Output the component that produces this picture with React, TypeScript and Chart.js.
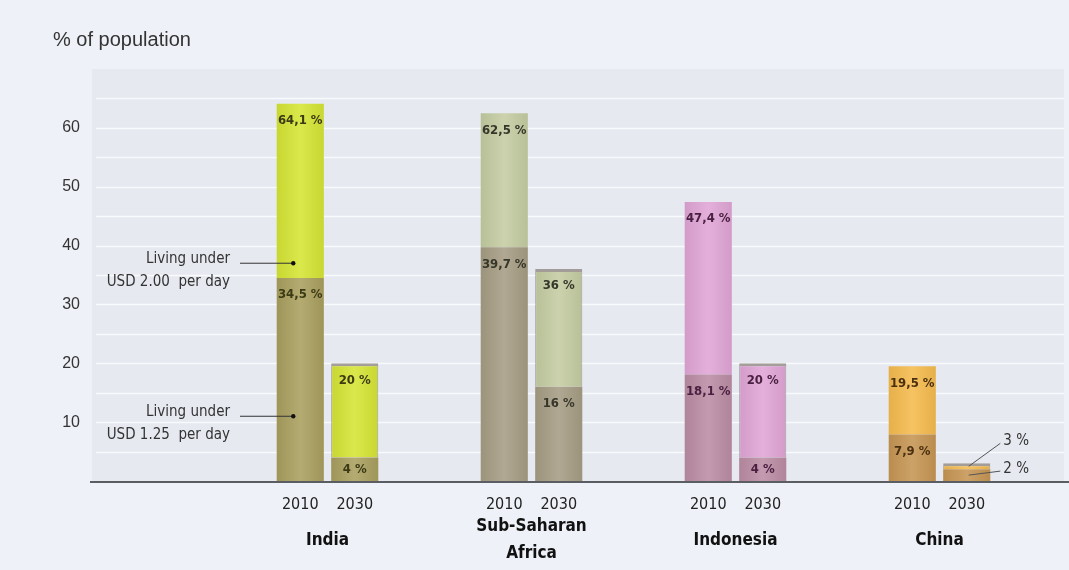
import React, { useEffect, useRef } from 'react';
import { Chart, registerables } from 'chart.js';

Chart.register(...registerables);

// ---------- data ----------
const REGIONS: string[][] = [['India'], ['Sub-Saharan', 'Africa'], ['Indonesia'], ['China']];
const YEARS = ['2010', '2030'];
const UNDER_125_2010 = [34.5, 39.7, 18.1, 7.9];
const UNDER_200_2010 = [64.1, 62.5, 47.4, 19.5];
const UNDER_125_2030 = [4, 16, 4, 2];
const UNDER_200_2030 = [20, 36, 20, 3];
const Y_MAX = 70;
const Y_STEP = 5;
const TITLE = '% of population';
const ANNOTATION_TEXT = [
  ['Living under', 'USD 2.00  per day'],
  ['Living under', 'USD 1.25  per day'],
];
const ANNOTATION_VALUES = [37, 11];

// ---------- styles ----------
const TOP_COLORS = ['#d5e534', '#c4cca2', '#e0a5d6', '#f5bb4e'];
const BOTTOM_COLORS = ['#a99f5f', '#a59c83', '#bb8ca4', '#c69553'];
const LABEL_COLORS = ['#3b3a14', '#36362a', '#4a2042', '#4a3010'];
const PANEL_BG = '#e6e9f0';
const PAGE_BG = '#eef1f7';
const NARROW = '"Liberation Sans Narrow", "DejaVu Sans Condensed", "Arial Narrow", Arial, sans-serif';
const SANS = '"Liberation Sans", Arial, Helvetica, sans-serif';

const fmt = (v: number) => String(v).replace('.', ',') + ' %';

function shade(hex: string, f: number) {
  const n = parseInt(hex.slice(1), 16);
  const c = [(n >> 16) & 255, (n >> 8) & 255, n & 255].map((v) =>
    Math.max(0, Math.min(255, Math.round(f >= 0 ? v + (255 - v) * f : v * (1 + f))))
  );
  return `rgb(${c[0]},${c[1]},${c[2]})`;
}

const barFill = (colors: string[]) => (c: any) => {
  const base = colors[c.dataIndex];
  const el = c.element;
  if (!el || typeof el.x !== 'number' || !el.width || !isFinite(el.x)) return base;
  const g = c.chart.ctx.createLinearGradient(el.x - el.width / 2, 0, el.x + el.width / 2, 0);
  g.addColorStop(0, shade(base, -0.06));
  g.addColorStop(0.5, shade(base, 0.12));
  g.addColorStop(1, shade(base, -0.06));
  return g;
};

const decor = {
  id: 'decor',
  beforeDraw(chart: any) {
    const { ctx } = chart;
    const y = chart.scales.y;
    const top = y.getPixelForValue(y.max);
    const bottom = y.getPixelForValue(0);
    const left = 92;
    const right = chart.width - 5;
    ctx.save();
    ctx.fillStyle = PANEL_BG;
    ctx.fillRect(left, top, right - left, bottom - top);
    ctx.strokeStyle = 'rgba(255,255,255,0.75)';
    ctx.lineWidth = 1.3;
    y.ticks.forEach((t: any) => {
      if (t.value <= 0 || t.value >= y.max) return;
      const py = Math.round(y.getPixelForValue(t.value)) + 0.5;
      ctx.beginPath();
      ctx.moveTo(left + 4, py);
      ctx.lineTo(right, py);
      ctx.stroke();
    });
    ctx.fillStyle = '#333';
    ctx.font = `20px ${SANS}`;
    ctx.textAlign = 'left';
    ctx.textBaseline = 'middle';
    ctx.fillText(TITLE, 53, 40);
    ctx.restore();
  },
  afterDatasetsDraw(chart: any) {
    const { ctx } = chart;
    const y = chart.scales.y;
    const base0 = y.getPixelForValue(0);
    const left = 90;
    const right = chart.width;
    ctx.save();

    // value labels
    chart.data.datasets.forEach((ds: any, di: number) => {
      const meta = chart.getDatasetMeta(di);
      meta.data.forEach((el: any, i: number) => {
        const p = el.getProps(['x', 'y', 'base', 'width'], true);
        const top = Math.min(p.y, p.base);
        const bot = Math.max(p.y, p.base);
        const h = bot - top;
        const text = fmt(ds.valueLabels[i]);
        if (h >= 18) {
          ctx.font = `bold 13px ${NARROW}`;
          ctx.fillStyle = LABEL_COLORS[i];
          ctx.textAlign = 'center';
          ctx.textBaseline = 'middle';
          ctx.fillText(text, p.x, Math.min(top + 17, (top + bot) / 2));
        } else {
          const barRight = p.x + p.width / 2;
          const mid = (top + bot) / 2;
          const ty = ds.isTop ? top - 22 : mid - 6;
          ctx.strokeStyle = '#555';
          ctx.lineWidth = 1;
          ctx.beginPath();
          ctx.moveTo(p.x + 2, mid);
          ctx.lineTo(barRight + 10, ty + 2);
          ctx.stroke();
          ctx.font = `15px ${NARROW}`;
          ctx.fillStyle = '#333';
          ctx.textAlign = 'left';
          ctx.textBaseline = 'middle';
          ctx.fillText(text, barRight + 13, ty);
        }
      });
    });

    // annotations (leader lines into the first India bar)
    const firstBar = chart.getDatasetMeta(0).data[0];
    ANNOTATION_TEXT.forEach((lines, k) => {
      const py = y.getPixelForValue(ANNOTATION_VALUES[k]);
      const dotX = firstBar.x - 7;
      ctx.strokeStyle = '#333';
      ctx.lineWidth = 1;
      ctx.beginPath();
      ctx.moveTo(240, py);
      ctx.lineTo(dotX, py);
      ctx.stroke();
      ctx.fillStyle = '#111';
      ctx.beginPath();
      ctx.arc(dotX, py, 2.2, 0, Math.PI * 2);
      ctx.fill();
      ctx.font = `15px ${NARROW}`;
      ctx.fillStyle = '#333';
      ctx.textAlign = 'right';
      ctx.textBaseline = 'middle';
      ctx.fillText(lines[0], 230, py - 4);
      ctx.fillText(lines[1], 230, py + 19);
    });

    // axis line across the panel
    ctx.strokeStyle = '#5a5d62';
    ctx.lineWidth = 2;
    ctx.beginPath();
    ctx.moveTo(left, base0 + 1);
    ctx.lineTo(right, base0 + 1);
    ctx.stroke();

    // year labels under each bar
    [0, 2].forEach((di, s) => {
      const meta = chart.getDatasetMeta(di);
      meta.data.forEach((el: any) => {
        ctx.font = `16px ${NARROW}`;
        ctx.fillStyle = '#222';
        ctx.textAlign = 'center';
        ctx.textBaseline = 'middle';
        ctx.fillText(YEARS[s], el.x, base0 + 24);
      });
    });
    ctx.restore();
  },
};

export default function App() {
  const ref = useRef<HTMLCanvasElement | null>(null);
  useEffect(() => {
    if (!ref.current) return;
    const topBorder = { top: 3, left: 1, right: 1, bottom: 0 };
    const chart = new Chart(ref.current, {
      type: 'bar',
      data: {
        labels: REGIONS,
        datasets: [
          {
            label: 'Living under USD 1.25 per day (2010)',
            data: UNDER_125_2010,
            stack: '2010',
            backgroundColor: barFill(BOTTOM_COLORS),
            valueLabels: UNDER_125_2010,
            isTop: false,
          } as any,
          {
            label: 'Living under USD 2.00 per day (2010)',
            data: UNDER_200_2010.map((v, i) => v - UNDER_125_2010[i]),
            stack: '2010',
            backgroundColor: barFill(TOP_COLORS),
            valueLabels: UNDER_200_2010,
            isTop: true,
          } as any,
          {
            label: 'Living under USD 1.25 per day (2030)',
            data: UNDER_125_2030,
            stack: '2030',
            backgroundColor: barFill(BOTTOM_COLORS),
            valueLabels: UNDER_125_2030,
            isTop: false,
          } as any,
          {
            label: 'Living under USD 2.00 per day (2030)',
            data: UNDER_200_2030.map((v, i) => v - UNDER_125_2030[i]),
            stack: '2030',
            backgroundColor: barFill(TOP_COLORS),
            borderColor: 'rgba(105,95,80,0.55)',
            borderWidth: topBorder,
            borderSkipped: false,
            valueLabels: UNDER_200_2030,
            isTop: true,
          } as any,
        ],
      },
      options: {
        animation: false,
        responsive: false,
        devicePixelRatio: 1,
        categoryPercentage: 0.534,
        barPercentage: 0.865,
        layout: { padding: { top: 69, right: 27.5, bottom: 0, left: 0 } },
        plugins: {
          legend: { display: false },
          tooltip: { enabled: false },
          title: { display: false },
        },
        scales: {
          x: {
            type: 'category',
            stacked: true,
            grid: { display: false, drawTicks: false },
            border: { display: false },
            ticks: {
              font: { family: NARROW, size: 17, weight: 'bold', lineHeight: 1.55 },
              color: '#111',
              padding: 46,
              crossAlign: 'center',
              maxRotation: 0,
              autoSkip: false,
            },
            afterFit: (s: any) => {
              s.height = 89;
              s.paddingLeft = 0;
              s.paddingRight = 0;
            },
          },
          y: {
            stacked: true,
            min: 0,
            max: Y_MAX,
            grid: { display: false, drawTicks: false },
            border: { display: false },
            ticks: {
              stepSize: Y_STEP,
              font: { family: SANS, size: 16 },
              color: '#333',
              padding: 145.5,
              callback: (v: any) => (v % 10 === 0 && v > 0 && v < Y_MAX ? String(v) : ''),
            },
            afterFit: (s: any) => {
              s.width = 225.5;
              s.paddingTop = 0;
              s.paddingBottom = 0;
            },
          },
        },
      } as any,
      plugins: [decor],
    });
    // second pass so the gradient fills can read the bar geometry
    chart.update('none');
    return () => chart.destroy();
  }, []);
  return (
    <div style={{ position: 'absolute', left: 0, top: 0, width: 1069, height: 570, background: PAGE_BG }}>
      <canvas ref={ref} width={1069} height={570} style={{ width: 1069, height: 570, display: 'block' }} />
    </div>
  );
}
